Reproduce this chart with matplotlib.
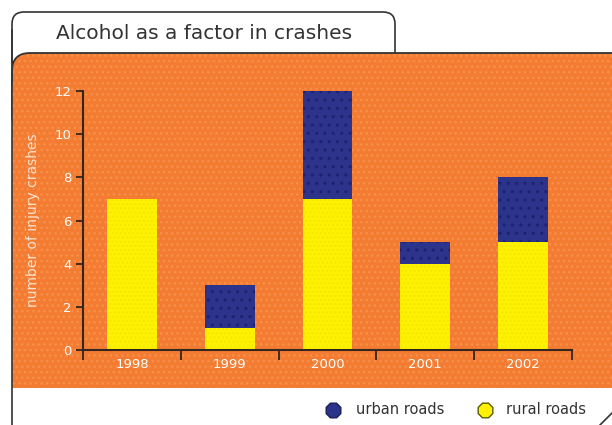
import matplotlib.pyplot as plt
from matplotlib.patches import FancyBboxPatch, Rectangle

years = ["1998", "1999", "2000", "2001", "2002"]
rural = [7, 1, 7, 4, 5]
urban = [0, 2, 5, 1, 3]
yticks = [0, 2, 4, 6, 8, 10, 12]

ORANGE = "#F47C32"
DOTS = "#F7914A"
NAVY = "#2B338A"
YELLOW = "#FFF200"
W, H = 612, 425

plt.rcParams["hatch.linewidth"] = 1.0
fig = plt.figure(figsize=(W / 100, H / 100), dpi=100)
fig.patch.set_facecolor("white")

# background canvas in pixel coordinates
bg = fig.add_axes([0, 0, 1, 1])
bg.set_xlim(0, W)
bg.set_ylim(H, 0)
bg.axis("off")

# title tab
tab = FancyBboxPatch((12, 12), 383, 60, boxstyle="round,pad=0,rounding_size=12",
                     fc="white", ec="#333333", lw=1.2)
bg.add_patch(tab)
bg.text(204, 33, "Alcohol as a factor in crashes", ha="center", va="center",
        fontsize=14.5, color="#333333")

# orange panel: rounded top-left corner only
top = FancyBboxPatch((12, 53), W + 30, 80, boxstyle="round,pad=0,rounding_size=18",
                     fc=ORANGE, ec=DOTS, lw=0, hatch="...", zorder=2)
outline = FancyBboxPatch((12, 53), W + 30, 80, boxstyle="round,pad=0,rounding_size=18",
                         fill=False, ec="#333333", lw=1.3, zorder=3)
body = Rectangle((12, 85), W, 303, fc=ORANGE, ec=DOTS, lw=0, hatch="...", zorder=4)
bg.add_patch(top)
bg.add_patch(outline)
bg.add_patch(body)
bg.plot([12, 12], [30, H], color="#333333", lw=1.2, zorder=5)
bg.plot([600, W], [H, 413], color="#333333", lw=1.2)

# legend
bg.scatter([333], [410], s=130, marker="8", c=NAVY, edgecolors="#1a1f55", zorder=3)
bg.text(356, 410, "urban roads", va="center", fontsize=10.5, color="#333333")
bg.scatter([485], [410], s=130, marker="8", c=YELLOW, edgecolors="#5a5a00", zorder=3)
bg.text(506, 410, "rural roads", va="center", fontsize=10.5, color="#333333")

# main chart
ax = fig.add_axes([83 / W, 1 - 350 / H, (572 - 83) / W, (350 - 91) / H])
ax.patch.set_alpha(0)
x = list(range(len(years)))
ax.bar(x, rural, width=0.51, color=YELLOW, edgecolor="#F5E600", hatch="....", lw=0)
ax.bar(x, urban, width=0.51, bottom=rural, color=NAVY, edgecolor="#1C2270", hatch="..", lw=0)

ax.set_xlim(-0.5, len(years) - 0.5)
ax.set_ylim(0, 12)
for s in ["top", "right"]:
    ax.spines[s].set_visible(False)
for s in ["left", "bottom"]:
    ax.spines[s].set_color("#33261e")
    ax.spines[s].set_linewidth(1.5)

ax.set_yticks(yticks)
ax.tick_params(axis="y", colors="#33261e", length=5, width=1.3, labelcolor="white",
               labelsize=9.5, pad=3)
ax.set_xticks([i - 0.5 for i in range(len(years) + 1)])
ax.set_xticklabels([])
ax.tick_params(axis="x", which="major", colors="#33261e", length=7, width=1.3)
ax.set_xticks(x, minor=True)
ax.set_xticklabels(years, minor=True)
ax.tick_params(axis="x", which="minor", length=0, labelcolor="white", labelsize=9.5, pad=6)

fig.text(33 / W, 1 - 220 / H, "number of injury crashes", rotation=90, ha="center",
         va="center", fontsize=10, color="#FBE3D2")

fig.savefig("out.png", dpi=100)
